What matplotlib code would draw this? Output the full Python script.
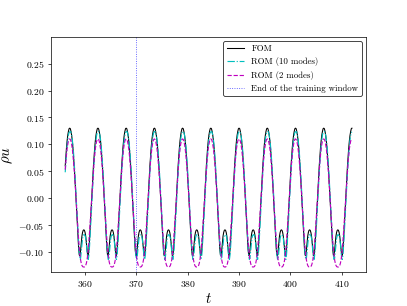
import numpy as np
import matplotlib
matplotlib.use("Agg")
import matplotlib.pyplot as plt

plt.rcParams['font.family'] = 'cmr10'
plt.rcParams['mathtext.fontset'] = 'cm'
plt.rcParams['axes.formatter.use_mathtext'] = True

# time grid: first sample, step, number of samples
t_start = 356.125
t_step = 0.125
n_samples = 448
t_end_train = 370.0

# one period (5.5 time units) of each signal, sampled every 0.125 starting at a FOM peak
fom_cycle = [0.130, 0.129, 0.124, 0.117, 0.107, 0.094, 0.078, 0.060, 0.040, 0.018,
             -0.005, -0.029, -0.053, -0.076, -0.095, -0.106, -0.107, -0.097, -0.083,
             -0.071, -0.064, -0.060, -0.059, -0.060, -0.064, -0.071, -0.083, -0.097,
             -0.107, -0.106, -0.095, -0.076, -0.053, -0.029, -0.005, 0.018, 0.040,
             0.060, 0.078, 0.094, 0.107, 0.117, 0.124, 0.129]
rom10_cycle = [0.123, 0.124, 0.122, 0.117, 0.109, 0.098, 0.084, 0.067, 0.048, 0.027,
               0.004, -0.020, -0.044, -0.067, -0.088, -0.105, -0.114, -0.112, -0.100,
               -0.086, -0.075, -0.070, -0.068, -0.068, -0.070, -0.075, -0.086, -0.100,
               -0.112, -0.114, -0.105, -0.088, -0.067, -0.044, -0.020, 0.004, 0.027,
               0.048, 0.067, 0.084, 0.098, 0.109, 0.117, 0.122]
rom2_cycle = [0.110, 0.109, 0.106, 0.100, 0.092, 0.081, 0.068, 0.053, 0.036, 0.017,
              -0.003, -0.023, -0.043, -0.062, -0.079, -0.094, -0.106, -0.115, -0.121,
              -0.125, -0.127, -0.128, -0.128, -0.128, -0.127, -0.125, -0.121, -0.115,
              -0.106, -0.094, -0.079, -0.062, -0.043, -0.023, -0.003, 0.017, 0.036,
              0.053, 0.068, 0.081, 0.092, 0.100, 0.106, 0.109]
start_index = 37  # the data begins 0.875 before the first peak

t = t_start + t_step * np.arange(n_samples)
fom = np.tile(fom_cycle, 12)[start_index:start_index + n_samples]
rom10 = np.tile(rom10_cycle, 12)[start_index:start_index + n_samples]
rom2 = np.tile(rom2_cycle, 12)[start_index:start_index + n_samples]

fig, ax = plt.subplots(figsize=(6.4, 4.812), dpi=407 / 6.4)
ax.plot(t, fom, color='k', ls='-', lw=1.2, label='FOM')
ax.plot(t, rom10, color='c', ls='-.', lw=1.3, label='ROM (10 modes)')
ax.plot(t, rom2, color='m', ls='--', lw=1.3, label='ROM (2 modes)')
ax.axvline(t_end_train, color='b', ls=':', lw=1.0, alpha=0.7,
           label='End of the training window')

ax.set_ylim(-0.138, 0.30)
ax.set_yticks(np.arange(-0.10, 0.26, 0.05))
ax.set_xlabel('$t$', fontsize=17)
ax.set_ylabel(r'$\rho u$', fontsize=17)
ax.tick_params(labelsize=11)
leg = ax.legend(loc='upper right', fontsize=10)
leg.get_frame().set_edgecolor('black')

fig.savefig('out.png', dpi=407 / 6.4)
